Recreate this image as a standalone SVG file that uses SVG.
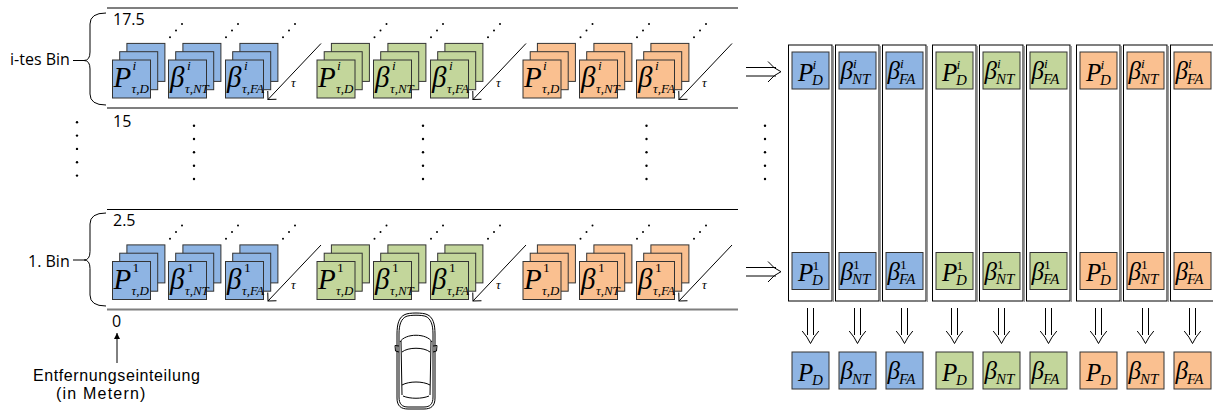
<svg xmlns="http://www.w3.org/2000/svg" xmlns:xlink="http://www.w3.org/1999/xlink" width="1213" height="410" viewBox="0 0 1213 410">
  <style>
    .lbl{font-family:"Open Sans","Liberation Sans",sans-serif;font-size:16px;fill:#000}
    .cap{font-family:"Liberation Sans","Open Sans",sans-serif;font-size:16px;fill:#000}
    .m{font-family:"Liberation Serif","Times New Roman",serif;font-style:italic;fill:#000}
    .up{font-style:normal}
    .big{font-size:29px}
    .mid{font-size:25px}
    .sup{font-size:13.5px}
    .sub{font-size:13px}
    .sub2{font-size:15px}
    .cb{fill:#8EB4E3;stroke:#333;stroke-width:1}
    .cg{fill:#C3D69B;stroke:#333;stroke-width:1}
    .co{fill:#FAC090;stroke:#333;stroke-width:1}
    .ln{fill:none;stroke:#000;stroke-width:1}
    .lane-top{stroke:#000;stroke-width:1.2}
    .lane-bot{stroke:#7f7f7f;stroke-width:2.2}
    .col{fill:#fff;stroke:#000;stroke-width:1}
    .colsh{fill:none;stroke:#9a9a9a;stroke-width:1}
    .dot{fill:#000}
  </style>
  <defs>
    <marker id="open" markerWidth="16" markerHeight="16" refX="8" refY="8" orient="auto" markerUnits="userSpaceOnUse">
      <path d="M2,2 L8,8 L2,14" fill="none" stroke="#000" stroke-width="1"/>
    </marker>
    <marker id="solid" markerWidth="8" markerHeight="8" refX="6" refY="3" orient="auto" markerUnits="userSpaceOnUse">
      <path d="M0,0 L6,3 L0,6 Z" fill="#000"/>
    </marker>
    <!-- three stacked cards, front card at the origin -->
    <g id="stk-b"><rect class="cb" x="14.4" y="-16.6" width="38" height="38"/><rect class="cb" x="7.2" y="-8.3" width="38" height="38"/><rect class="cb" x="0" y="0" width="38" height="38"/></g>
    <g id="stk-g"><rect class="cg" x="14.4" y="-16.6" width="38" height="38"/><rect class="cg" x="7.2" y="-8.3" width="38" height="38"/><rect class="cg" x="0" y="0" width="38" height="38"/></g>
    <g id="stk-o"><rect class="co" x="14.4" y="-16.6" width="38" height="38"/><rect class="co" x="7.2" y="-8.3" width="38" height="38"/><rect class="co" x="0" y="0" width="38" height="38"/></g>
    <!-- diagonal ellipsis -->
    <g id="iddots"><circle class="dot" cx="0" cy="13.3" r="1"/><circle class="dot" cx="6" cy="6.6" r="1"/><circle class="dot" cx="12" cy="0" r="1"/></g>
    <!-- vertical ellipsis -->
    <g id="vdots"><circle class="dot" cx="0" cy="0" r="1.2"/><circle class="dot" cx="0" cy="13.3" r="1.2"/><circle class="dot" cx="0" cy="26.6" r="1.2"/><circle class="dot" cx="0" cy="40" r="1.2"/><circle class="dot" cx="0" cy="53.3" r="1.2"/></g>
    <!-- hollow downward double arrow -->
    <path id="dn" d="M-3,0 V27 M3,0 V27 M-8.3,23 Q-3,29 0,35.5 Q3,29 8.3,23" fill="none" stroke="#000" stroke-width="1"/>
  </defs>

  <!-- bin labels and braces -->
  <g id="bin-i">
    <text class="lbl" x="10" y="65">i-tes Bin</text>
    <path class="ln" d="M73,60.5 H84 M106,13 Q90,13 90,24 L90,52 Q90,60.5 84,60.5 Q90,60.5 90,69 L90,94 Q90,105 106,105"/>
  </g>
  <g id="bin-1">
    <text class="lbl" x="28" y="267">1. Bin</text>
    <path class="ln" d="M73,260 H84 M106,213 Q90,213 90,224 L90,251.5 Q90,260 84,260 Q90,260 90,268.5 L90,295 Q90,306 106,306"/>
  </g>

  <!-- distance marks -->
  <g id="marks">
    <text class="lbl" x="113" y="25">17.5</text>
    <text class="lbl" x="113" y="127">15</text>
    <text class="lbl" x="113" y="226">2.5</text>
    <text class="lbl" x="112" y="327">0</text>
    <text class="cap" x="33" y="380.5" letter-spacing="0.6">Entfernungseinteilung</text>
    <text class="cap" x="56" y="398.5" letter-spacing="1.2">(in Metern)</text>
  </g>

  <!-- lane i -->
  <g id="lane-i">
    <line class="lane-top" x1="107" y1="8" x2="738" y2="8"/>
    <line class="lane-bot" x1="107" y1="108" x2="738" y2="108"/>
    <use xlink:href="#stk-b" x="112.5" y="60"/>
    <use xlink:href="#stk-b" x="168.5" y="60"/>
    <use xlink:href="#stk-b" x="225.5" y="60"/>
    <use xlink:href="#stk-g" x="317" y="60"/>
    <use xlink:href="#stk-g" x="373.5" y="60"/>
    <use xlink:href="#stk-g" x="430.5" y="60"/>
    <use xlink:href="#stk-o" x="523" y="60"/>
    <use xlink:href="#stk-o" x="579.5" y="60"/>
    <use xlink:href="#stk-o" x="636.5" y="60"/>
    <g class="m">
      <text class="big" x="113.5" y="87">P</text><text class="sup" x="132.5" y="70">i</text><text class="sub" x="131.5" y="93">τ,D</text>
      <text class="big" x="170" y="87">β</text><text class="sup" x="187" y="70">i</text><text class="sub" x="185" y="93">τ,NT</text>
      <text class="big" x="227" y="87">β</text><text class="sup" x="244" y="70">i</text><text class="sub" x="242" y="93">τ,FA</text>
      <text class="big" x="318" y="87">P</text><text class="sup" x="337" y="70">i</text><text class="sub" x="336" y="93">τ,D</text>
      <text class="big" x="375" y="87">β</text><text class="sup" x="392" y="70">i</text><text class="sub" x="390" y="93">τ,NT</text>
      <text class="big" x="432" y="87">β</text><text class="sup" x="449" y="70">i</text><text class="sub" x="447" y="93">τ,FA</text>
      <text class="big" x="524" y="87">P</text><text class="sup" x="543" y="70">i</text><text class="sub" x="542" y="93">τ,D</text>
      <text class="big" x="581" y="87">β</text><text class="sup" x="598" y="70">i</text><text class="sub" x="596" y="93">τ,NT</text>
      <text class="big" x="638" y="87">β</text><text class="sup" x="655" y="70">i</text><text class="sub" x="653" y="93">τ,FA</text>
      <text class="sub" x="291" y="87">τ</text>
      <text class="sub" x="496" y="87">τ</text>
      <text class="sub" x="702" y="87">τ</text>
    </g>
    <use xlink:href="#iddots" x="170" y="24"/>
    <use xlink:href="#iddots" x="226" y="24"/>
    <use xlink:href="#iddots" x="283" y="24"/>
    <use xlink:href="#iddots" x="374.5" y="24"/>
    <use xlink:href="#iddots" x="431" y="24"/>
    <use xlink:href="#iddots" x="488" y="24"/>
    <use xlink:href="#iddots" x="580.5" y="24"/>
    <use xlink:href="#iddots" x="637" y="24"/>
    <use xlink:href="#iddots" x="694" y="24"/>
  </g>

  <!-- lane 1 -->
  <g id="lane-1" transform="translate(0,201.5)">
    <line class="lane-top" x1="107" y1="8" x2="738" y2="8"/>
    <line class="lane-bot" x1="107" y1="108" x2="738" y2="108"/>
    <use xlink:href="#stk-b" x="112.5" y="60"/>
    <use xlink:href="#stk-b" x="168.5" y="60"/>
    <use xlink:href="#stk-b" x="225.5" y="60"/>
    <use xlink:href="#stk-g" x="317" y="60"/>
    <use xlink:href="#stk-g" x="373.5" y="60"/>
    <use xlink:href="#stk-g" x="430.5" y="60"/>
    <use xlink:href="#stk-o" x="523" y="60"/>
    <use xlink:href="#stk-o" x="579.5" y="60"/>
    <use xlink:href="#stk-o" x="636.5" y="60"/>
    <g class="m">
      <text class="big" x="113.5" y="87">P</text><text class="sup up" x="132.5" y="70">1</text><text class="sub" x="131.5" y="93">τ,D</text>
      <text class="big" x="170" y="87">β</text><text class="sup up" x="187" y="70">1</text><text class="sub" x="185" y="93">τ,NT</text>
      <text class="big" x="227" y="87">β</text><text class="sup up" x="244" y="70">1</text><text class="sub" x="242" y="93">τ,FA</text>
      <text class="big" x="318" y="87">P</text><text class="sup up" x="337" y="70">1</text><text class="sub" x="336" y="93">τ,D</text>
      <text class="big" x="375" y="87">β</text><text class="sup up" x="392" y="70">1</text><text class="sub" x="390" y="93">τ,NT</text>
      <text class="big" x="432" y="87">β</text><text class="sup up" x="449" y="70">1</text><text class="sub" x="447" y="93">τ,FA</text>
      <text class="big" x="524" y="87">P</text><text class="sup up" x="543" y="70">1</text><text class="sub" x="542" y="93">τ,D</text>
      <text class="big" x="581" y="87">β</text><text class="sup up" x="598" y="70">1</text><text class="sub" x="596" y="93">τ,NT</text>
      <text class="big" x="638" y="87">β</text><text class="sup up" x="655" y="70">1</text><text class="sub" x="653" y="93">τ,FA</text>
      <text class="sub" x="291" y="87">τ</text>
      <text class="sub" x="496" y="87">τ</text>
      <text class="sub" x="702" y="87">τ</text>
    </g>
    <use xlink:href="#iddots" x="170" y="24"/>
    <use xlink:href="#iddots" x="226" y="24"/>
    <use xlink:href="#iddots" x="283" y="24"/>
    <use xlink:href="#iddots" x="374.5" y="24"/>
    <use xlink:href="#iddots" x="431" y="24"/>
    <use xlink:href="#iddots" x="488" y="24"/>
    <use xlink:href="#iddots" x="580.5" y="24"/>
    <use xlink:href="#iddots" x="637" y="24"/>
    <use xlink:href="#iddots" x="694" y="24"/>
  </g>

  <!-- vertical ellipses between the lanes and in the columns -->
  <g id="ellipses">
    <use xlink:href="#vdots" x="77" y="122.3"/>
    <use xlink:href="#vdots" x="194" y="125.7"/>
    <use xlink:href="#vdots" x="423" y="125.7"/>
    <use xlink:href="#vdots" x="646.5" y="125.7"/>
    <use xlink:href="#vdots" x="765" y="125.7"/>
    <use xlink:href="#vdots" x="799" y="125.7"/>
    <use xlink:href="#vdots" x="859.3" y="125.7"/>
    <use xlink:href="#vdots" x="899" y="125.7"/>
    <use xlink:href="#vdots" x="954.3" y="125.7"/>
    <use xlink:href="#vdots" x="1004.3" y="125.7"/>
    <use xlink:href="#vdots" x="1046" y="125.7"/>
    <use xlink:href="#vdots" x="1096" y="125.7"/>
    <use xlink:href="#vdots" x="1146.7" y="125.7"/>
    <use xlink:href="#vdots" x="1192" y="125.7"/>
  </g>

  <!-- result columns -->
  <g id="col-1"><line class="colsh" x1="833.5" y1="46" x2="833.5" y2="302"/><rect class="col" x="788.5" y="45" width="43.5" height="256"/>
    <rect class="cb" x="792" y="52" width="37" height="37"/><rect class="cb" x="792" y="252.5" width="37" height="37"/></g>
  <g id="col-2"><line class="colsh" x1="880.5" y1="46" x2="880.5" y2="302"/><rect class="col" x="835.5" y="45" width="43.5" height="256"/>
    <rect class="cb" x="839" y="52" width="37" height="37"/><rect class="cb" x="839" y="252.5" width="37" height="37"/></g>
  <g id="col-3"><line class="colsh" x1="927.5" y1="46" x2="927.5" y2="302"/><rect class="col" x="882.5" y="45" width="43.5" height="256"/>
    <rect class="cb" x="886" y="52" width="37" height="37"/><rect class="cb" x="886" y="252.5" width="37" height="37"/></g>
  <g id="col-4"><line class="colsh" x1="977.5" y1="46" x2="977.5" y2="302"/><rect class="col" x="932.5" y="45" width="43.5" height="256"/>
    <rect class="cg" x="936" y="52" width="37" height="37"/><rect class="cg" x="936" y="252.5" width="37" height="37"/></g>
  <g id="col-5"><line class="colsh" x1="1024.5" y1="46" x2="1024.5" y2="302"/><rect class="col" x="979.5" y="45" width="43.5" height="256"/>
    <rect class="cg" x="983" y="52" width="37" height="37"/><rect class="cg" x="983" y="252.5" width="37" height="37"/></g>
  <g id="col-6"><line class="colsh" x1="1071.5" y1="46" x2="1071.5" y2="302"/><rect class="col" x="1026.5" y="45" width="43.5" height="256"/>
    <rect class="cg" x="1030" y="52" width="37" height="37"/><rect class="cg" x="1030" y="252.5" width="37" height="37"/></g>
  <g id="col-7"><line class="colsh" x1="1121.5" y1="46" x2="1121.5" y2="302"/><rect class="col" x="1076.5" y="45" width="43.5" height="256"/>
    <rect class="co" x="1080" y="52" width="37" height="37"/><rect class="co" x="1080" y="252.5" width="37" height="37"/></g>
  <g id="col-8"><line class="colsh" x1="1168.5" y1="46" x2="1168.5" y2="302"/><rect class="col" x="1123.5" y="45" width="43.5" height="256"/>
    <rect class="co" x="1127" y="52" width="37" height="37"/><rect class="co" x="1127" y="252.5" width="37" height="37"/></g>
  <g id="col-9"><rect class="col" x="1170.5" y="45" width="43.5" height="256"/>
    <rect class="co" x="1174" y="52" width="37" height="37"/><rect class="co" x="1174" y="252.5" width="37" height="37"/></g>

  <g id="col-labels" class="m">
    <text class="mid" x="798" y="80.5">P</text><text class="sup" x="812.5" y="69">i</text><text class="sub2" x="812" y="84.5">D</text>
    <text class="mid" x="840.5" y="79">β</text><text class="sup" x="853" y="68">i</text><text class="sub2" x="852" y="83.5">NT</text>
    <text class="mid" x="887.5" y="79">β</text><text class="sup" x="900" y="68">i</text><text class="sub2" x="899" y="83.5">FA</text>
    <text class="mid" x="942" y="80.5">P</text><text class="sup" x="956.5" y="69">i</text><text class="sub2" x="956" y="84.5">D</text>
    <text class="mid" x="984.5" y="79">β</text><text class="sup" x="997" y="68">i</text><text class="sub2" x="996" y="83.5">NT</text>
    <text class="mid" x="1031.5" y="79">β</text><text class="sup" x="1044" y="68">i</text><text class="sub2" x="1043" y="83.5">FA</text>
    <text class="mid" x="1086" y="80.5">P</text><text class="sup" x="1100.5" y="69">i</text><text class="sub2" x="1100" y="84.5">D</text>
    <text class="mid" x="1128.5" y="79">β</text><text class="sup" x="1141" y="68">i</text><text class="sub2" x="1140" y="83.5">NT</text>
    <text class="mid" x="1175.5" y="79">β</text><text class="sup" x="1188" y="68">i</text><text class="sub2" x="1187" y="83.5">FA</text>

    <text class="mid" x="798" y="281">P</text><text class="sup up" x="812.5" y="269.5">1</text><text class="sub2" x="812" y="285">D</text>
    <text class="mid" x="840.5" y="279.5">β</text><text class="sup up" x="853" y="268.5">1</text><text class="sub2" x="852" y="284">NT</text>
    <text class="mid" x="887.5" y="279.5">β</text><text class="sup up" x="900" y="268.5">1</text><text class="sub2" x="899" y="284">FA</text>
    <text class="mid" x="942" y="281">P</text><text class="sup up" x="956.5" y="269.5">1</text><text class="sub2" x="956" y="285">D</text>
    <text class="mid" x="984.5" y="279.5">β</text><text class="sup up" x="997" y="268.5">1</text><text class="sub2" x="996" y="284">NT</text>
    <text class="mid" x="1031.5" y="279.5">β</text><text class="sup up" x="1044" y="268.5">1</text><text class="sub2" x="1043" y="284">FA</text>
    <text class="mid" x="1086" y="281">P</text><text class="sup up" x="1100.5" y="269.5">1</text><text class="sub2" x="1100" y="285">D</text>
    <text class="mid" x="1128.5" y="279.5">β</text><text class="sup up" x="1141" y="268.5">1</text><text class="sub2" x="1140" y="284">NT</text>
    <text class="mid" x="1175.5" y="279.5">β</text><text class="sup up" x="1188" y="268.5">1</text><text class="sub2" x="1187" y="284">FA</text>
  </g>

  <!-- combined outputs -->
  <g id="out-1"><rect class="cb" x="792" y="352" width="37" height="37"/><text class="m mid" x="798" y="380.5">P</text><text class="m sub2" x="812" y="384.5">D</text></g>
  <g id="out-2"><rect class="cb" x="839" y="352" width="37" height="37"/><text class="m mid" x="840.5" y="379">β</text><text class="m sub2" x="852" y="383.5">NT</text></g>
  <g id="out-3"><rect class="cb" x="886" y="352" width="37" height="37"/><text class="m mid" x="887.5" y="379">β</text><text class="m sub2" x="899" y="383.5">FA</text></g>
  <g id="out-4"><rect class="cg" x="936" y="352" width="37" height="37"/><text class="m mid" x="942" y="380.5">P</text><text class="m sub2" x="956" y="384.5">D</text></g>
  <g id="out-5"><rect class="cg" x="983" y="352" width="37" height="37"/><text class="m mid" x="984.5" y="379">β</text><text class="m sub2" x="996" y="383.5">NT</text></g>
  <g id="out-6"><rect class="cg" x="1030" y="352" width="37" height="37"/><text class="m mid" x="1031.5" y="379">β</text><text class="m sub2" x="1043" y="383.5">FA</text></g>
  <g id="out-7"><rect class="co" x="1080" y="352" width="37" height="37"/><text class="m mid" x="1086" y="380.5">P</text><text class="m sub2" x="1100" y="384.5">D</text></g>
  <g id="out-8"><rect class="co" x="1127" y="352" width="37" height="37"/><text class="m mid" x="1128.5" y="379">β</text><text class="m sub2" x="1140" y="383.5">NT</text></g>
  <g id="out-9"><rect class="co" x="1174" y="352" width="37" height="37"/><text class="m mid" x="1175.5" y="379">β</text><text class="m sub2" x="1187" y="383.5">FA</text></g>

  <!-- car seen from above -->
  <g id="car" fill="none" stroke="#000" stroke-width="1">
    <path d="M405,314.5 C409,312.5 423,312.5 427,314.5 C433,317 435,324 435,334 L435,398 C435,406 431,409 424,409 L408,409 C401,409 397,406 397,398 L397,334 C397,324 399,317 405,314.5 Z"/>
    <path d="M406,316.5 C410,314.8 422,314.8 426,316.5 C431,319 433,325 433,334 L433,397 C433,404 430,407 424,407 L408,407 C402,407 399,404 399,397 L399,334 C399,325 401,319 406,316.5 Z"/>
    <path d="M400,342 C405,333 427,333 432,342"/>
    <path d="M402,352 C408,347 424,347 430,352"/>
    <path d="M401,341 L402,395 M431,341 L430,395"/>
    <path d="M402,385 C409,381 423,381 430,385"/>
    <path d="M403,396 C410,399 422,399 429,396"/>
    <path d="M399,346 L395,345.5 L395.5,351 L399,352 M433,346 L437,345.5 L436.5,351 L433,352"/>
  </g>

  <!-- connectors -->
  <g id="connectors">
    <line class="ln" x1="321" y1="43.5" x2="268" y2="99.5" marker-end="url(#open)"/>
    <line class="ln" x1="526" y1="43.5" x2="473" y2="99.5" marker-end="url(#open)"/>
    <line class="ln" x1="732" y1="43.5" x2="679" y2="99.5" marker-end="url(#open)"/>
    <line class="ln" x1="321" y1="245" x2="268" y2="301" marker-end="url(#open)"/>
    <line class="ln" x1="526" y1="245" x2="473" y2="301" marker-end="url(#open)"/>
    <line class="ln" x1="732" y1="245" x2="679" y2="301" marker-end="url(#open)"/>
    <path class="ln" d="M746,67.5 H776 M746,76 H776 M768,61.5 Q774,69 781,71.7 Q774,74.5 768,82"/>
    <path class="ln" d="M746,267.5 H776 M746,276 H776 M768,261.5 Q774,269 781,271.7 Q774,274.5 768,282"/>
    <line class="ln" x1="117" y1="363" x2="117" y2="333" marker-end="url(#solid)"/>
    <use xlink:href="#dn" x="810.5" y="308"/>
    <use xlink:href="#dn" x="857.5" y="308"/>
    <use xlink:href="#dn" x="904.5" y="308"/>
    <use xlink:href="#dn" x="954.5" y="308"/>
    <use xlink:href="#dn" x="1001.5" y="308"/>
    <use xlink:href="#dn" x="1048.5" y="308"/>
    <use xlink:href="#dn" x="1098.5" y="308"/>
    <use xlink:href="#dn" x="1145.5" y="308"/>
    <use xlink:href="#dn" x="1192.5" y="308"/>
  </g>
</svg>
